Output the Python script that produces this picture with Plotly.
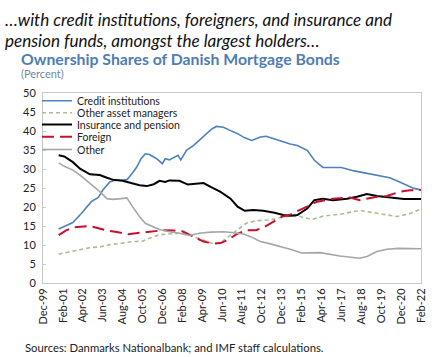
import plotly.graph_objects as go

# ---- data ----
credit_dates = ["2000-11","2001-03","2001-09","2002-03","2002-10","2003-03","2003-06","2003-11","2004-02","2004-07",
                "2004-11","2005-01","2005-06","2005-09","2005-12","2006-03","2006-08","2006-12","2007-02","2007-05",
                "2007-11","2008-01","2008-05","2008-10","2009-02","2009-06","2009-11","2010-02","2010-07","2010-12",
                "2011-05","2011-10","2012-03","2012-09","2013-01","2013-07","2014-01","2014-06","2014-11","2015-06",
                "2015-11","2016-05","2016-12","2017-06","2018-03","2018-12","2019-09","2020-04","2020-11","2021-09","2022-02"]
credit_vals = [14.2,14.8,15.9,18.3,21.4,22.5,24.4,26.6,27.0,27.0,
               27.2,28.0,30.5,32.7,34.0,33.8,32.7,31.4,32.7,32.4,
               33.6,32.4,34.9,36.2,37.5,38.8,40.6,41.2,41.0,40.1,
               39.3,38.2,37.5,38.4,38.6,37.9,37.1,36.6,36.2,34.9,
               32.3,30.4,30.4,30.4,29.5,28.8,28.1,27.7,26.6,24.9,24.5]

other_am_dates = ["2000-11","2001-07","2002-03","2002-09","2003-04","2003-11","2004-08","2005-03","2005-10","2006-03",
                  "2006-10","2007-06","2007-12","2008-08","2009-04","2009-12","2010-05","2010-10","2011-04","2011-11",
                  "2012-06","2013-04","2014-01","2014-06","2015-01","2015-09","2016-05","2017-05","2018-07","2019-07",
                  "2020-09","2021-06","2022-02"]
other_am_vals = [7.6,8.2,8.7,9.3,9.5,10.1,10.5,10.9,11.0,11.8,
                 12.7,13.0,13.1,12.5,11.5,10.3,10.6,12.0,13.9,15.7,
                 16.4,16.6,17.4,17.6,17.5,16.7,17.6,18.1,19.1,18.3,
                 17.5,18.2,19.5]

insurance_dates = ["2000-11","2001-03","2001-09","2002-02","2002-09","2003-04","2003-09","2004-01","2004-08","2005-02",
                   "2005-08","2006-01","2006-06","2006-10","2007-02","2007-05","2007-12","2008-06","2009-05","2009-10",
                   "2010-05","2010-12","2011-05","2011-10","2012-04","2012-11","2013-07","2014-01","2014-06","2014-11",
                   "2015-06","2015-11","2016-05","2016-12","2017-10","2018-05","2018-12","2019-07","2020-04","2021-02","2022-02"]
insurance_vals = [33.6,33.3,31.8,30.1,28.6,28.4,27.7,27.2,26.9,26.3,
                  25.7,25.5,26.0,26.9,26.6,27.0,26.9,25.9,26.3,25.3,
                  24.0,22.2,20.1,19.0,19.2,19.0,18.5,17.9,17.7,17.9,
                  19.6,21.8,22.2,21.8,22.2,22.7,23.4,22.9,22.5,22.1,22.1]

foreign_dates = ["2000-11","2001-04","2001-09","2002-03","2002-09","2003-03","2003-09","2004-04","2004-12","2005-08",
                 "2006-05","2007-01","2007-08","2008-02","2008-05","2008-10","2009-05","2009-12","2010-05","2010-10",
                 "2011-04","2011-11","2012-06","2012-12","2013-06","2013-12","2014-06","2015-01","2015-08","2016-01",
                 "2016-12","2017-12","2018-07","2019-07","2020-02","2020-11","2021-06","2022-02"]
foreign_vals = [12.6,13.8,14.6,14.8,15.0,14.4,13.8,13.4,12.8,13.2,
                13.5,13.9,13.8,13.6,13.1,12.2,10.9,10.4,10.5,11.3,
                12.8,13.9,13.9,14.8,16.1,17.4,18.0,19.2,20.5,21.4,
                22.2,22.5,21.8,22.7,22.9,24.0,24.4,24.5]

other_dates = ["2000-11","2001-03","2001-09","2002-02","2002-09","2003-03","2003-09","2004-01","2004-07","2004-11",
               "2005-03","2005-08","2005-12","2006-06","2006-10","2007-05","2007-12","2008-07","2009-02","2009-10",
               "2010-07","2011-01","2011-09","2012-02","2012-09","2013-04","2013-11","2014-06","2015-02","2015-08",
               "2016-03","2017-05","2018-07","2018-12","2019-07","2020-02","2020-10","2022-02"]
other_vals = [31.6,30.7,29.7,28.4,26.2,24.4,22.2,22.0,22.2,22.4,
              20.1,17.4,15.7,14.8,14.1,13.5,13.1,12.5,13.1,13.4,
              13.5,13.3,12.9,12.2,10.9,10.3,9.6,8.9,7.9,7.9,
              8.0,7.1,6.5,7.0,8.3,8.9,9.1,9.0]

tick_dates = ["1999-12","2001-02","2002-04","2003-06","2004-08","2005-10","2006-12","2008-02","2009-04","2010-06",
              "2011-08","2012-10","2013-12","2015-02","2016-04","2017-06","2018-08","2019-10","2020-12","2022-02"]
tick_labels = ["Dec-99","Feb-01","Apr-02","Jun-03","Aug-04","Oct-05","Dec-06","Feb-08","Apr-09","Jun-10",
               "Aug-11","Oct-12","Dec-13","Feb-15","Apr-16","Jun-17","Aug-18","Oct-19","Dec-20","Feb-22"]
y_ticks = [0, 5, 10, 15, 20, 25, 30, 35, 40, 45, 50]

FONT = "Lato"
W, H = 436, 357
ML, MR, MT, MB = 43, 15, 93, 74

def px_x(p):
    return (p - ML) / (W - ML - MR)

def px_y(p):
    return 1 - (p - MT) / (H - MT - MB)

series = [
    ("Credit institutions", credit_dates, credit_vals, dict(color="#4F81BD", width=1.6)),
    ("Other asset managers", other_am_dates, other_am_vals, dict(color="#A8BF90", width=1.6, dash="4px,3px")),
    ("Insurance and pension", insurance_dates, insurance_vals, dict(color="#000000", width=2)),
    ("Foreign", foreign_dates, foreign_vals, dict(color="#C8102E", width=2, dash="12px,6px")),
    ("Other", other_dates, other_vals, dict(color="#A6A6A6", width=1.6)),
]
legend_rows = [100.7, 112.7, 124.5, 136.8, 149.5]

fig = go.Figure()
layout_legends = {}
for i, (name, xs, ys, line) in enumerate(series):
    key = "legend" if i == 0 else f"legend{i+1}"
    fig.add_trace(go.Scatter(x=xs, y=ys, mode="lines", name=name, line=line, legend=key))
    layout_legends[key] = dict(x=px_x(37), y=px_y(legend_rows[i]), xanchor="left", yanchor="middle",
                               bgcolor="rgba(0,0,0,0)", font=dict(size=10.5, color="#222222"),
                               itemwidth=30, borderwidth=0)

fig.update_layout(
    width=W, height=H,
    margin=dict(l=ML, r=MR, t=MT, b=MB, pad=0, autoexpand=False),
    paper_bgcolor="white", plot_bgcolor="white",
    font=dict(family=FONT, size=11, color="#333333"),
    showlegend=True,
    xaxis=dict(type="date", range=["1999-12-01", "2022-02-01"], automargin=False,
               tickmode="array", tickvals=tick_dates, ticktext=tick_labels,
               tickangle=-90, showgrid=False, zeroline=False,
               showline=True, linecolor="#C8C8C8", linewidth=1, mirror=True,
               ticks="", tickfont=dict(size=11, color="#222222")),
    yaxis=dict(range=[0, 50], tickvals=y_ticks, showgrid=False, zeroline=False, automargin=False,
               showline=True, linecolor="#C8C8C8", linewidth=1, mirror=True,
               ticks="inside", ticklen=3, tickcolor="#C8C8C8", ticklabelstandoff=4,
               tickfont=dict(size=11, color="#222222")),
    **layout_legends,
)

ann = [
    dict(text="<i>…with credit institutions, foreigners, and insurance and</i>", x=px_x(3), y=px_y(19),
         font=dict(size=17.1, color="#111111")),
    dict(text="<i>pension funds, amongst the largest holders…</i>", x=px_x(3), y=px_y(40),
         font=dict(size=17.1, color="#111111")),
    dict(text="<b>Ownership Shares of Danish Mortgage Bonds</b>", x=px_x(19), y=px_y(58),
         font=dict(size=15.8, color="#4F7DB3")),
    dict(text="(Percent)", x=px_x(19), y=px_y(73), font=dict(size=11, color="#7089A8")),
    dict(text="Sources: Danmarks Nationalbank; and IMF staff calculations.", x=px_x(23), y=px_y(347),
         font=dict(size=11.3, color="#222222")),
]
for a in ann:
    fig.add_annotation(xref="paper", yref="paper", xanchor="left", yanchor="middle",
                       showarrow=False, **a)

fig.write_html("out.html", config={"displayModeBar": False},
               post_script="document.body.style.margin='0';document.body.style.overflow='hidden';")
